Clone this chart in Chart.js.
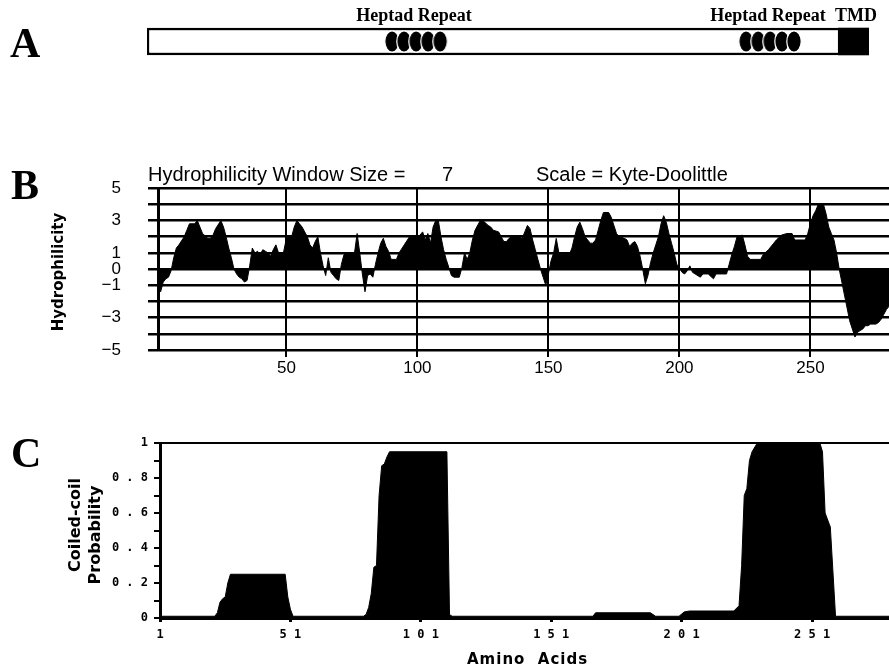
<!DOCTYPE html>
<html>
<head>
<meta charset="utf-8">
<script src="https://cdn.jsdelivr.net/npm/chart.js@4.4.0/dist/chart.umd.min.js"></script>
<style>
  body { margin: 0; background: #fff; }
  #fig { position: relative; width: 889px; height: 669px; overflow: hidden; background: #fff; }
  #fig canvas { position: absolute; left: 0; }
  .t { position: absolute; white-space: nowrap; line-height: 1; color: #000; }
  .letter { font-family: "Liberation Serif", serif; font-weight: bold; font-size: 42px; }
  .domain { font-family: "Liberation Serif", serif; font-weight: bold; font-size: 18px; transform: translateX(-50%); }
  .head { font-family: "Liberation Sans", sans-serif; font-size: 20px; }
  .rot { font-family: "DejaVu Sans", sans-serif; font-weight: bold; transform: translate(-50%, -50%) rotate(-90deg); }
</style>
</head>
<body>
<div id="fig">
  <canvas id="chartA" width="889" height="80" style="top:0"></canvas>
  <canvas id="chartB" width="889" height="239" style="top:151px"></canvas>
  <canvas id="chartC" width="889" height="249" style="top:420px"></canvas>

  <div class="t letter" style="left:10px;top:22px">A</div>
  <div class="t letter" style="left:11px;top:164px">B</div>
  <div class="t letter" style="left:11px;top:432px">C</div>

  <div class="t domain" style="left:414px;top:6px">Heptad Repeat</div>
  <div class="t domain" style="left:768px;top:6px">Heptad Repeat</div>
  <div class="t domain" style="left:856px;top:6px">TMD</div>

  <div class="t head" style="left:148px;top:164px">Hydrophilicity Window Size =</div>
  <div class="t head" style="left:442px;top:164px">7</div>
  <div class="t head" style="left:536px;top:164px">Scale = Kyte-Doolittle</div>

  <div class="t rot" style="left:58px;top:272px;font-size:15px">Hydrophilicity</div>
  <div class="t rot" style="left:75px;top:525px;font-size:16px">Coiled-coil</div>
  <div class="t rot" style="left:95px;top:535px;font-size:16px">Probability</div>
  <div class="t" style="left:467px;top:652px;font-family:'DejaVu Sans',sans-serif;font-weight:bold;font-size:15px;letter-spacing:1px">Amino&nbsp; Acids</div>
</div>

<script>
// panel A: protein schematic (amino acid positions)
const proteinSpan = [0, 282];
const tmdSpan = [270, 282];
const heptadAA = [95.7, 100.4, 105.1, 109.8, 114.5, 234, 238.7, 243.4, 248, 252.7];

// panel B: Kyte-Doolittle hydrophilicity, window 7
const hydroAA = [1,2,3,4,5,6,7,8,9,11,12,13,15,16,17,18,20,21,22,23,25,26,27,28,29,30,31,32,33,34,35,36,37,38,39,40,41,42,43,44,45,46,47,48,49,50,
  51,52,53,54,55,56,57,58,59,60,61,62,63,64,65,66,67,68,69,70,71,72,74,76,77,78,79,80,81,82,83,84,85,86,87,88,89,90,92,93,95,97,99,100,
  101,102,103,104,105,106,107,108,109,110,111,112,113,114,116,117,118,119,120,121,122,124,125,127,128,129,131,132,133,134,135,136,139,140,
  141,142,143,144,145,146,147,148,149,150,151,152,153,154,155,158,159,160,161,162,163,164,165,166,167,168,169,170,171,173,174,175,176,177,179,180,
  181,182,183,184,185,186,187,188,189,190,191,192,193,194,195,196,197,198,199,200,201,202,203,204,205,206,208,209,211,213,214,216,218,219,220,
  221,222,224,225,226,227,231,232,234,236,237,239,241,243,244,248,249,250,251,252,253,255,256,257,258,259,260,
  261,262,263,264,265,266,267,268,269,270,271,272,273,274,275,276,277,278,279,280];
const hydroValues = [-0.3,-1.4,-0.8,-0.6,-0.5,-0.1,0.7,1.3,1.5,2.0,2.4,2.8,2.8,3.0,2.6,2.2,1.9,1.9,2.1,2.5,3.0,2.6,2.0,1.3,0.7,0.0,-0.3,-0.5,-0.6,-0.8,-0.7,0.2,1.3,1.0,1.1,0.9,1.2,1.1,1.0,0.8,1.2,1.5,1.0,0.9,1.1,1.9,
  2.0,2.0,2.6,3.0,2.8,2.6,2.3,2.0,1.5,1.3,1.7,2.0,1.0,0.2,-0.4,0.7,-0.2,-0.4,-0.6,-0.7,0.3,0.9,1.0,1.0,2.2,1.0,-0.3,-1.4,-0.4,-0.3,-0.5,0.3,1.0,1.6,1.9,1.4,1.1,0.6,0.6,1.0,1.5,2.0,2.0,2.0,
  2.1,2.3,1.8,2.2,1.6,2.6,3.0,3.0,2.0,1.2,0.6,0.1,-0.4,-0.5,-0.5,0.1,1.0,0.6,1.0,1.8,2.4,3.0,3.0,2.7,2.6,2.4,2.3,2.0,1.7,1.7,1.9,2.0,2.0,1.9,
  2.3,2.7,2.5,1.8,1.2,0.6,0.0,-0.5,-1.0,-0.3,0.5,1.0,1.9,1.0,0.9,0.9,1.3,2.0,2.6,2.9,2.5,2.0,1.8,1.6,1.6,1.8,2.4,3.0,3.5,3.5,3.2,2.7,2.2,2.0,1.9,1.8,
  1.4,1.6,1.7,1.4,0.8,0.0,-0.9,-0.4,0.4,1.0,1.5,2.0,2.8,3.3,2.9,2.2,1.6,1.0,0.3,0.1,-0.2,-0.3,-0.1,0.2,-0.2,-0.3,-0.5,-0.3,-0.3,-0.6,-0.3,-0.3,-0.3,0.3,0.9,
  1.4,2.0,2.1,1.5,0.8,0.6,0.6,0.9,1.2,1.6,1.8,2.1,2.2,2.2,1.8,1.8,2.2,2.8,3.3,3.6,4.0,4.0,3.4,2.6,2.2,1.8,1.0,
  0.0,-0.8,-1.6,-2.4,-3.2,-3.7,-4.2,-3.9,-3.8,-3.7,-3.5,-3.5,-3.4,-3.4,-3.4,-3.3,-3.1,-2.8,-2.5,-2.3];
const hydroXTicks = [50, 100, 150, 200, 250];
const hydroYLabels = [5, 3, 1, 0, -1, -3, -5];

// panel C: coiled-coil probability
const coilAA = [1,22,23,24,25,26,27,28,49,50,51,52,79,80,81,82,83,84,85,86,87,88,89,111,112,113,167,168,189,191,200,202,204,221,223,224,225,226,227,228,230,254,255,256,258,260,281];
const coilValues = [0.01,0.01,0.03,0.09,0.11,0.12,0.2,0.25,0.25,0.12,0.05,0.01,0.01,0.02,0.06,0.14,0.29,0.3,0.7,0.87,0.88,0.92,0.95,0.95,0.02,0.01,0.01,0.03,0.03,0.01,0.01,0.035,0.04,0.04,0.07,0.3,0.7,0.74,0.9,0.95,1.0,1.0,0.95,0.6,0.52,0.01,0.01];
const coilXTicks = [1, 51, 101, 151, 201, 251];

const common = {
  responsive: false,
  animation: false,
  devicePixelRatio: 1,
  events: [],
  plugins: { legend: { display: false }, tooltip: { enabled: false } }
};

function ovalImage(w, h) {
  const c = document.createElement('canvas');
  c.width = w; c.height = h;
  const g = c.getContext('2d');
  g.beginPath();
  g.ellipse(w / 2, h / 2, w / 2 - 0.8, h / 2 - 0.8, 0, 0, Math.PI * 2);
  g.fillStyle = '#000';
  g.fill();
  g.lineWidth = 1.2;
  g.strokeStyle = '#fff';
  g.stroke();
  return c;
}

new Chart(document.getElementById('chartA'), {
  type: 'bar',
  data: {
    labels: ['protein'],
    datasets: [
      { type: 'scatter', indexAxis: 'x', data: heptadAA.map(x => ({ x: x, y: 'protein' })),
        pointStyle: ovalImage(16, 23), pointRadius: 10, order: 1 },
      { data: [tmdSpan], backgroundColor: '#000', borderWidth: 0, grouped: false, barThickness: 27, order: 2 },
      { data: [proteinSpan], backgroundColor: '#fff', borderColor: '#000', borderWidth: 2.5,
        borderSkipped: false, grouped: false, barThickness: 27, order: 3 }
    ]
  },
  options: {
    ...common,
    indexAxis: 'y',
    layout: { padding: { left: 147, right: 20, top: 20, bottom: 17 } },
    scales: {
      x: { type: 'linear', min: proteinSpan[0], max: proteinSpan[1], display: false },
      y: { type: 'category', display: false }
    }
  }
});

// the y tick padding (27) plus half a label sets the top inset: 151 + 37 = 188
new Chart(document.getElementById('chartB'), {
  type: 'line',
  data: {
    datasets: [{
      data: hydroAA.map((x, i) => ({ x: x, y: hydroValues[i] })),
      borderColor: '#000', borderWidth: 1, backgroundColor: '#000',
      fill: 'origin', pointRadius: 0, tension: 0
    }]
  },
  options: {
    ...common,
    layout: { padding: { top: 0, right: 0, left: 0, bottom: 0 } },
    scales: {
      x: {
        type: 'linear', min: 1, max: 280,
        afterBuildTicks: s => { s.ticks = hydroXTicks.map(v => ({ value: v })); },
        afterFit: s => { s.height = 40; },
        grid: { color: '#000', lineWidth: 2, tickLength: 7 },
        border: { display: false },
        ticks: { color: '#000', autoSkip: false, maxRotation: 0, padding: 1,
                 font: { family: 'Liberation Sans', size: 17 } }
      },
      y: {
        min: -5, max: 5,
        afterFit: s => { s.width = 158; },
        grid: { color: '#000', lineWidth: 2.5, tickLength: 10 },
        border: { color: '#000', width: 3 },
        ticks: {
          stepSize: 1, autoSkip: false, color: '#000', padding: 27,
          font: { family: 'Liberation Sans', size: 17 },
          callback: v => hydroYLabels.includes(v) ? String(v).replace('-', '\u2212') : ''
        }
      }
    }
  }
});

new Chart(document.getElementById('chartC'), {
  type: 'line',
  data: {
    datasets: [{
      data: coilAA.map((x, i) => ({ x: x, y: coilValues[i] })),
      borderColor: '#000', borderWidth: 1, backgroundColor: '#000',
      fill: 'origin', pointRadius: 0, tension: 0
    }]
  },
  options: {
    ...common,
    layout: { padding: { top: 23, right: 0, left: 0, bottom: 0 } },
    scales: {
      x: {
        type: 'linear', min: 1, max: 280.5,
        afterBuildTicks: s => { s.ticks = coilXTicks.map(v => ({ value: v })); },
        afterFit: s => { s.height = 51; },
        grid: { drawOnChartArea: false, color: '#000', lineWidth: 3, tickLength: 4 },
        border: { color: '#000', width: 3 },
        ticks: {
          color: '#000', autoSkip: false, maxRotation: 0, padding: 6,
          font: { family: 'DejaVu Sans Mono', size: 12, weight: 'bold' },
          callback: v => String(v).split('').join(' ')
        }
      },
      y: {
        min: 0, max: 1,
        afterFit: s => { s.width = 160; },
        grid: {
          color: c => (c.tick && Math.round(c.tick.value * 10) === 10) ? '#000' : 'rgba(0,0,0,0)',
          tickColor: '#000', lineWidth: 2, tickLength: 6
        },
        border: { color: '#000', width: 3 },
        ticks: {
          stepSize: 0.1, autoSkip: false, color: '#000', padding: 6,
          font: { family: 'DejaVu Sans Mono', size: 12, weight: 'bold' },
          callback: v => {
            const d = Math.round(v * 10);
            if (d % 2) return '';
            if (d === 0) return '0';
            if (d === 10) return '1';
            return '0 . ' + d;
          }
        }
      }
    }
  }
});
</script>
</body>
</html>
